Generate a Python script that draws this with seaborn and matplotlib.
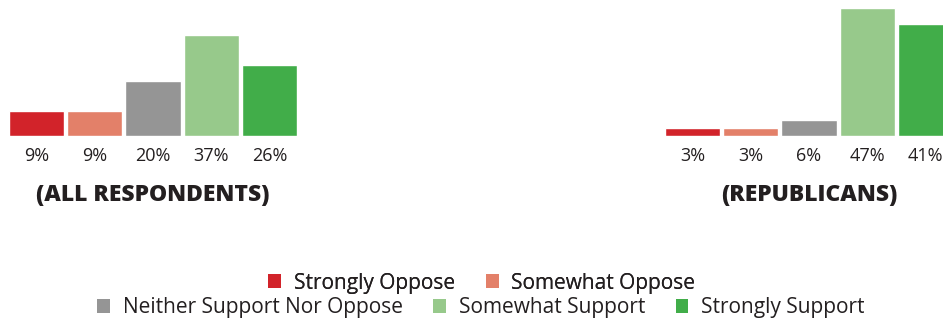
import matplotlib
matplotlib.use("Agg")
import matplotlib.pyplot as plt
import seaborn as sns
import pandas as pd
from matplotlib.patches import Patch

categories = ["Strongly Oppose", "Somewhat Oppose", "Neither Support Nor Oppose",
              "Somewhat Support", "Strongly Support"]
all_values = [9, 9, 20, 37, 26]
rep_values = [3, 3, 6, 47, 41]
panel_titles = ["(ALL RESPONDENTS)", "(REPUBLICANS)"]
colors = ["#D2232A", "#E38069", "#959595", "#97C98B", "#41AD49"]

sns.set_theme(style="white")
plt.rcParams['font.family'] = ['Open Sans', 'DejaVu Sans']

W, H = 943, 325
fig = plt.figure(figsize=(W / 100, H / 100), dpi=100)

def px_axes(x0, x1, y_base, height):
    return fig.add_axes([x0 / W, (H - y_base) / H, (x1 - x0) / W, height / H])

panels = [(9, 297, all_values), (665, 953, rep_values)]
for (x0, x1, vals), title in zip(panels, panel_titles):
    ax = px_axes(x0, x1, 136, 136.5)
    df = pd.DataFrame({"cat": categories, "val": vals})
    sns.barplot(data=df, x="cat", y="val", hue="cat", palette=colors,
                order=categories, hue_order=categories, width=0.95,
                legend=False, ax=ax, saturation=1)
    ax.set_xlim(-0.475, 4.475)
    ax.set_ylim(0, 50)
    ax.axis("off")
    for i, v in enumerate(vals):
        ax.annotate(f"{v}%", xy=(i, 0), xytext=(0, -20), textcoords="offset pixels",
                    ha="center", va="center", fontsize=13, color="#231F20")
    fig.text(((x0 + x1) / 2) / W, (H - 195) / H, title, ha="center", va="center",
             fontsize=16.5, fontweight=800, color="#231F20")

handles = [Patch(facecolor=c, edgecolor="none") for c in colors]
common = dict(loc="center", frameon=False, handlelength=0.62, handleheight=0.62,
              handletextpad=0.62, columnspacing=1.45, prop={"size": 15},
              labelcolor="#231F20", borderpad=0)
leg1 = fig.legend(handles[:2], categories[:2], ncol=2,
                  bbox_to_anchor=(482 / W, (H - 283) / H), **common)
fig.add_artist(leg1)
leg2 = fig.legend(handles[2:], categories[2:], ncol=3,
                  bbox_to_anchor=(481 / W, (H - 308) / H), **common)

fig.savefig("out.png", dpi=100)
